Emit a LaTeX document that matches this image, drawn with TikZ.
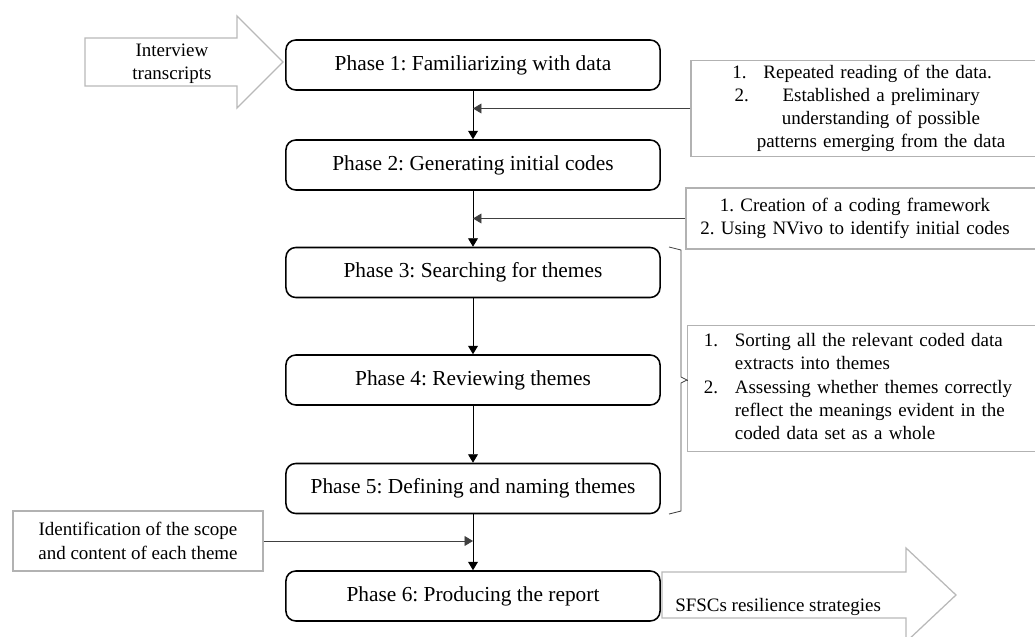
\documentclass[tikz,border=0pt]{standalone}
\usepackage{fontspec}
\setmainfont{Liberation Serif}
\usetikzlibrary{arrows.meta}
\frenchspacing

\begin{document}
\begin{tikzpicture}[x=0.025cm, y=-0.025cm,
  phase/.style={draw, line width=1.1pt, rounded corners=7pt, minimum width=9.35cm,
    minimum height=1.25cm, font=\fontsize{15.2}{18}\selectfont},
  note/.style={draw=gray!60, line width=0.9pt, align=center, inner xsep=0.2cm,
    font=\fontsize{13.5}{16.5}\selectfont},
  flow/.style={line width=0.6pt, -{Triangle[length=6pt,width=7pt]}},
  side/.style={flow, draw=black!75},
  bigarrow/.style={draw=gray!55, line width=0.9pt}]
\useasboundingbox (0,0) rectangle (1035,637);
\clip (0,0) rectangle (1035,637);

% the six phases
\node[phase] (p1) at (473,65) {Phase 1: Familiarizing with data};
\node[phase] (p2) at (473,165) {Phase 2: Generating initial codes};
\node[phase] (p3) at (473,272.5) {Phase 3: Searching for themes};
\node[phase] (p4) at (473,380) {Phase 4: Reviewing themes};
\node[phase] (p5) at (473,488.5) {Phase 5: Defining and naming themes};
\node[phase] (p6) at (473,596) {Phase 6: Producing the report};

\draw[flow] (p1) -- (p2);
\draw[flow] (p2) -- (p3);
\draw[flow] (p3) -- (p4);
\draw[flow] (p4) -- (p5);
\draw[flow] (p5) -- (p6);

% notes on the side
\node[note, text width=8.575cm, minimum height=2.325cm] (n1) at (870.5,108.5)
  {1.\hspace{12pt}Repeated reading of the data.\kern12pt\\
   2.\hspace{24pt}Established a preliminary\kern19pt\\
   \leavevmode\kern15pt understanding of possible\\
   \leavevmode\kern15pt patterns emerging from the data};
\node[note, text width=8.7cm, minimum height=1.525cm] (n2) at (868,218.5)
  {1. Creation of a coding framework\kern18.5pt\\
   2. Using NVivo to identify initial codes\kern18.5pt};
\node[note, minimum width=8.975cm, minimum height=2.975cm, text width=8.325cm,
  align=left, inner xsep=13\pgflinewidth] (n3) at (870.5,388.5)
  {\begin{tabular}{@{}p{22pt}@{}l@{}}
   1. & Sorting all the relevant coded data\\
      & extracts into themes\\
   2. & Assessing whether themes correctly\\
      & reflect the meanings evident in the\\
      & coded data set as a whole
   \end{tabular}};
\node[note, minimum width=6.25cm, minimum height=1.5cm] (n4) at (138,541)
  {Identification of the scope\\and content of each theme};

\draw[side] (n1.west) -- (n1.west -| p1);
\draw[side] (n2.west) -- (n2.west -| p2);
\draw[side] (n4.east) -- (n4.east -| p5);

% bracket over phases 3 to 5
\coordinate (brtip) at (687,380);
\draw[black!75, line width=0.6pt] (669,247) -- (681,250) -- (681,377) -- (brtip)
  -- (681,383) -- (681,511) -- (669,514);
\draw[black!75, line width=0.6pt] (brtip) -- (brtip -| n3.west);

% input and output arrows
\draw[bigarrow] (85,38) -- (237,38) -- (237,16) -- (283,62) -- (237,108)
  -- (237,86) -- (85,86) -- cycle;
\node[align=center, font=\fontsize{13.5}{16.5}\selectfont] (intxt) at (172,63.5)
  {Interview\\transcripts};
\draw[bigarrow] (662,572) -- (906,572) -- (906,548) -- (956,595) -- (906,642)
  -- (906,618) -- (662,618) -- cycle;
\node[anchor=base west, inner sep=0pt, font=\fontsize{13.5}{16.5}\selectfont]
  (outtxt) at (675,611) {SFSCs resilience strategies};
\end{tikzpicture}
\end{document}
